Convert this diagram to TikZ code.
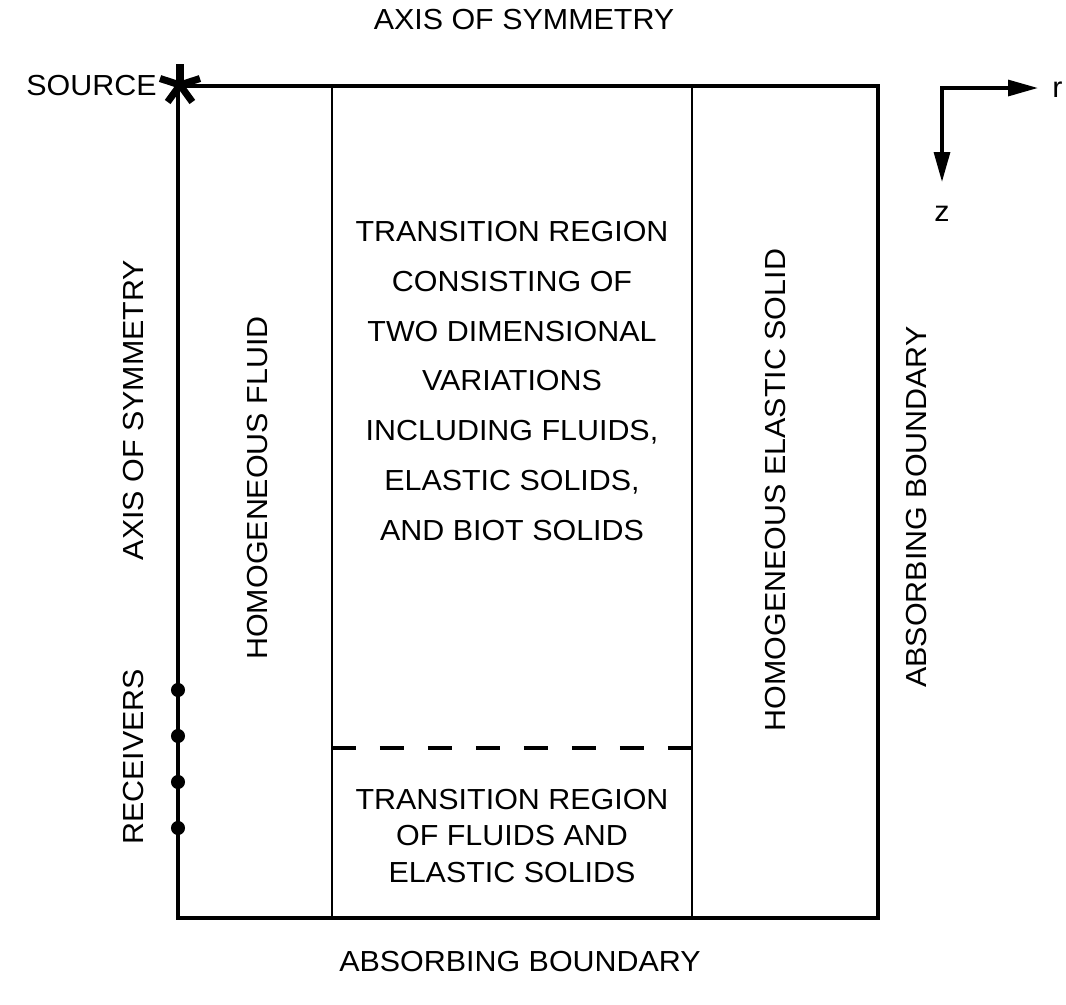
\documentclass[tikz,border=0pt]{standalone}
\usepackage{fontspec}
\setmainfont{Liberation Sans}[FakeStretch=1.05]
\usetikzlibrary{arrows.meta,positioning,calc}

\begin{document}
\begin{tikzpicture}[
  x=0.02cm, y=-0.02cm,
  lbl/.style={font=\fontsize{16.5}{19}\selectfont, inner sep=0pt},
  vlbl/.style={lbl, rotate=90},
  boxline/.style={line width=2pt},
  divline/.style={line width=1.6pt},
  axarr/.style={{Triangle[length=17pt,width=9pt]}-{Triangle[length=17pt,width=9pt]}, line width=2pt},
  rcv/.style={circle, fill, inner sep=0pt, minimum size=8pt}
]
\useasboundingbox (0,0) rectangle (1066,1005);

% model outline and region boundaries
\coordinate (tl) at (178,86);
\coordinate (tr) at (878,86);
\coordinate (br) at (878,918);
\coordinate (bl) at (178,918);
\coordinate (f1) at (332,86);
\coordinate (f2) at (332,918);
\coordinate (s1) at (692,86);
\coordinate (s2) at (692,918);
\coordinate (d1) at (332,748);
\coordinate (d2) at (692,748);

\draw[boxline] (tl) -- (tr) -- (br) -- (bl) -- cycle;
\draw[divline] (f1) -- (f2);
\draw[divline] (s1) -- (s2);
\draw[line width=2pt, dash pattern=on 13.65pt off 13.65pt] (d1) -- (d2);

% source
\foreach \a in {90,18,162,234,306}
  \draw[line width=4pt] (180,85) -- ++(\a:0.42cm);

% receivers
\foreach \y [count=\i] in {690,736,782,828}
  \node[rcv] (r\i) at (178,\y) {};

% labels
\node[lbl] (axtop) at (524,20) {AXIS OF SYMMETRY};
\node[lbl, anchor=east] (srclbl) at (157,86) {SOURCE};
\node[lbl] (abbot) at (520,962) {ABSORBING BOUNDARY};
\node[vlbl] (axleft) at (134,410) {AXIS OF SYMMETRY};
\node[vlbl] (rcvlbl) at (134,757) {RECEIVERS};
\node[vlbl] (fluid) at (258,488) {HOMOGENEOUS FLUID};
\node[vlbl] (solid) at (776,490) {HOMOGENEOUS ELASTIC SOLID};
\node[vlbl] (abright) at (917,507) {ABSORBING BOUNDARY};

\node[lbl, align=center, font=\fontsize{16.5}{28.3}\selectfont] (trans) at (512,381)
  {TRANSITION REGION\\CONSISTING OF\\TWO DIMENSIONAL\\VARIATIONS\\INCLUDING FLUIDS,\\ELASTIC SOLIDS,\\AND BIOT SOLIDS};
\node[lbl, align=center, font=\fontsize{16.5}{21}\selectfont] (transb) at (512,836)
  {TRANSITION REGION\\OF FLUIDS AND\\ELASTIC SOLIDS};

% coordinate directions
\coordinate (o) at (942,88);
\coordinate (rtip) at (1038,88);
\coordinate (ztip) at (942,182);
\draw[axarr] (rtip) -- (o) -- (ztip);
\node[lbl, anchor=west] (rlbl) at (1052,90) {r};
\node[lbl] (zlbl) at (942,214) {z};
\end{tikzpicture}
\end{document}
